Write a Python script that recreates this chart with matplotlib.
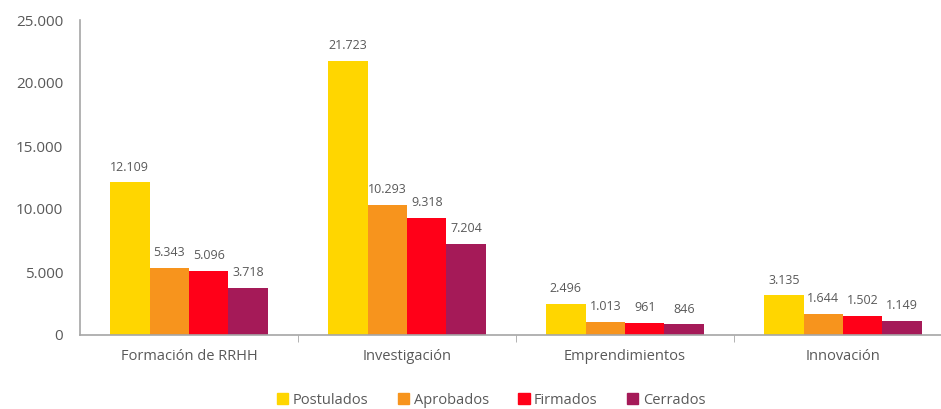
import matplotlib.pyplot as plt
import numpy as np
from matplotlib.patches import Patch

categories = ["Formación de RRHH", "Investigación", "Emprendimientos", "Innovación"]
series = ["Postulados", "Aprobados", "Firmados", "Cerrados"]
postulados = [12109, 21723, 2496, 3135]
aprobados = [5343, 10293, 1013, 1644]
firmados = [5096, 9318, 961, 1502]
cerrados = [3718, 7204, 846, 1149]
colors = ["#FFD600", "#F7941D", "#FF0018", "#A51A58"]

plt.rcParams['font.family'] = ['Open Sans', 'DejaVu Sans']
txt = "#595959"

fig = plt.figure(figsize=(9.41, 4.09), dpi=100)
W, H = 941, 409
ax = fig.add_axes([80 / W, 1 - 335 / H, 872 / W, 315 / H])

data = [postulados, aprobados, firmados, cerrados]
x = np.arange(len(categories))
bw = 0.181
for i, (vals, c) in enumerate(zip(data, colors)):
    pos = x + (i - 1.5) * bw
    ax.bar(pos, vals, width=bw, color=c, zorder=2)
    for p, v in zip(pos, vals):
        ax.text(p, v + 700, f"{v:,}".replace(",", "."), ha="center", va="bottom",
                fontsize=9, color=txt)

ax.set_xlim(-0.5, 3.5)
ax.set_ylim(0, 25000)
ax.set_yticks(range(0, 25001, 5000))
ax.set_yticklabels([f"{v:,}".replace(",", ".") for v in range(0, 25001, 5000)],
                   fontsize=11, color=txt)
ax.tick_params(axis="y", length=0, pad=12)
ax.set_xticks(x)
ax.set_xticklabels(categories, fontsize=10.5, color=txt)
ax.tick_params(axis="x", length=0, pad=10)
ax.set_xticks(np.arange(0.5, 3.5, 1), minor=True)
ax.tick_params(axis="x", which="minor", length=5, color="#A6A6A6", direction="out")

for s in ["top", "right"]:
    ax.spines[s].set_visible(False)
for s in ["left", "bottom"]:
    ax.spines[s].set_color("#A6A6A6")
    ax.spines[s].set_linewidth(1.2)

handles = [Patch(color=c, label=s) for s, c in zip(series, colors)]
fig.legend(handles=handles, loc="center", bbox_to_anchor=(491 / W, 1 - 400 / H),
           ncol=4, frameon=False, fontsize=10.5, handlelength=0.8, handleheight=0.8,
           handletextpad=0.3, columnspacing=2.0, labelcolor=txt)

fig.savefig("out.png", dpi=100)
